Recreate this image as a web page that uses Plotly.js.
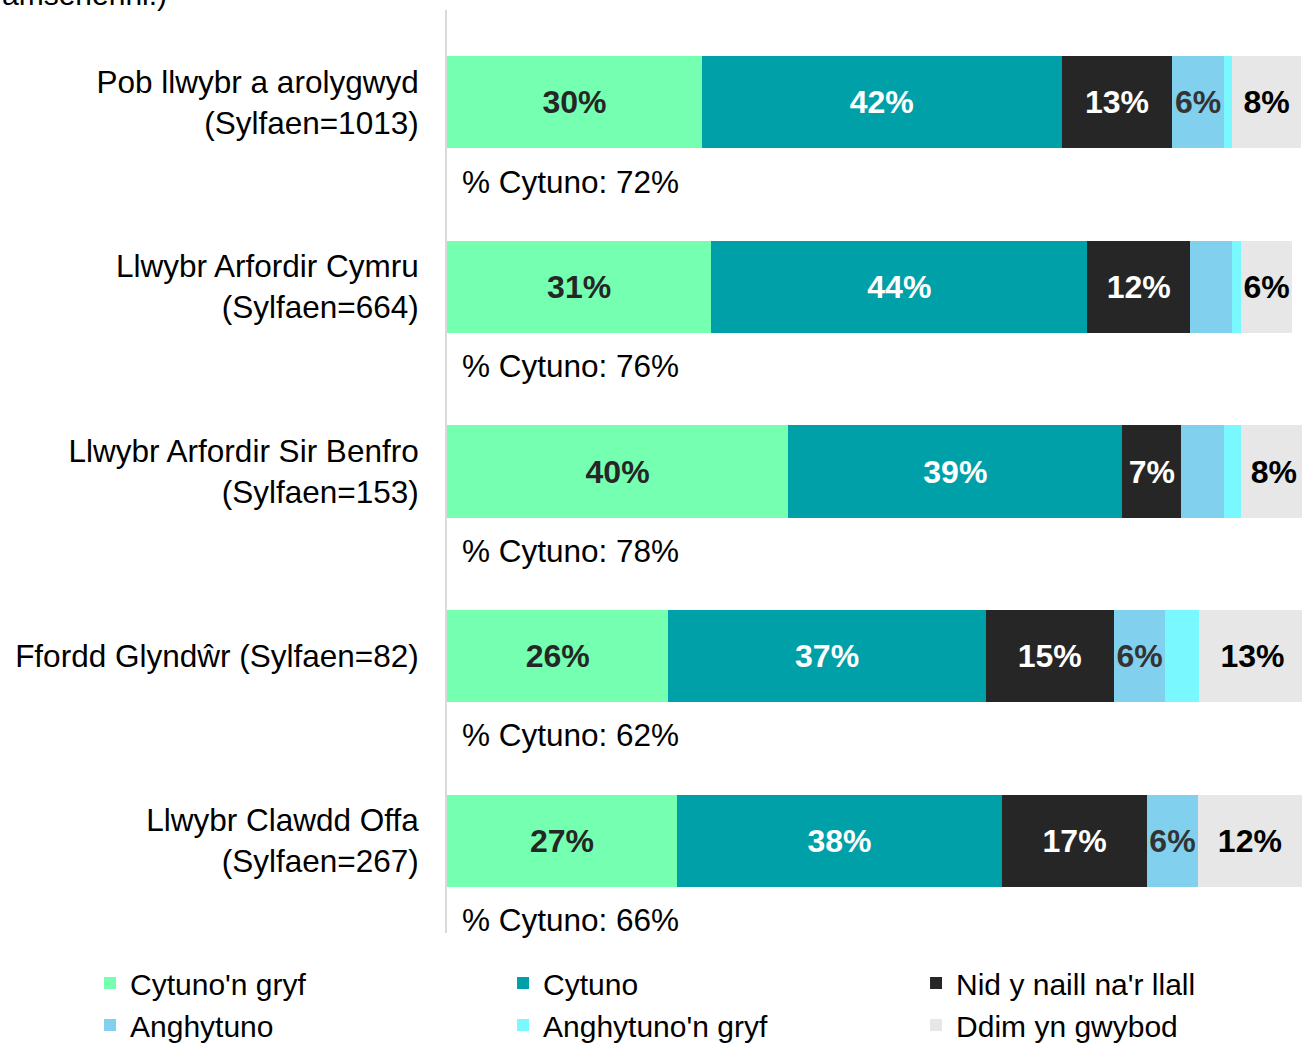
<!DOCTYPE html>
<html>
<head>
<meta charset="utf-8">
<script src="https://cdn.plot.ly/plotly-3.0.1.min.js"></script>
<style>html,body{margin:0;padding:0;background:#fff;}#chart{width:1303px;height:1044px;}</style>
</head>
<body>
<div id="chart"></div>
<script>
// Categories (top to bottom)
const categories = [
  "Pob llwybr a arolygwyd<br>(Sylfaen=1013)",
  "Llwybr Arfordir Cymru<br>(Sylfaen=664)",
  "Llwybr Arfordir Sir Benfro<br>(Sylfaen=153)",
  "Ffordd Glyndŵr (Sylfaen=82)",
  "Llwybr Clawdd Offa<br>(Sylfaen=267)"
];
const seriesNames = ["Cytuno'n gryf", "Cytuno", "Nid y naill na'r llall", "Anghytuno", "Anghytuno'n gryf", "Ddim yn gwybod"];
// Values (%) per series, one entry per category
const cytunoGryf     = [29.8, 30.9, 39.9, 25.9, 26.9];
const cytuno         = [42.1, 44.0, 39.1, 37.1, 38.0];
const nidYNaill      = [12.9, 12.0, 6.9, 15.0, 17.0];
const anghytuno      = [6.1, 4.9, 5.0, 6.0, 5.9];
const anghytunoGryf  = [0.9, 1.1, 2.0, 3.9, 0.0];
const ddimYnGwybod   = [8.1, 5.9, 7.6, 12.6, 12.2];
// % agree summary per category
const cytunoTotal    = [72, 76, 78, 62, 66];

const seriesValues = [cytunoGryf, cytuno, nidYNaill, anghytuno, anghytunoGryf, ddimYnGwybod];
const colors = ["#75FFB0", "#00A0A9", "#262626", "#80D0EE", "#7AF8FF", "#E7E7E7"];
const textColors = ["#262626", "#FFFFFF", "#FFFFFF", "#333333", "#333333", "#000000"];

const FONT = "Liberation Sans, Arial, sans-serif";
const FS = 31.5;
const yIdx = categories.map((c, i) => i);

const traces = seriesValues.map((vals, s) => ({
  type: "bar",
  orientation: "h",
  name: seriesNames[s],
  y: yIdx,
  x: vals,
  width: 0.5,
  marker: {color: colors[s], line: {width: 0}},
  text: vals.map(v => v >= 5.5 ? v.toFixed(0) + "%" : ""),
  textposition: "inside",
  insidetextanchor: "middle",
  textangle: 0,
  constraintext: "none",
  textfont: {family: FONT, size: 32, color: textColors[s], weight: "bold"},
  hoverinfo: "skip",
  showlegend: true
}));

const annotations = cytunoTotal.map((v, i) => ({
  xref: "x", yref: "y",
  x: 0, y: i + 0.43,
  xanchor: "left", yanchor: "middle",
  xshift: 13,
  text: "% Cytuno: " + v + "%",
  showarrow: false,
  font: {family: FONT, size: FS, color: "#000"}
}));
annotations.push({
  xref: "paper", yref: "paper",
  x: -447/855, y: 1,
  xanchor: "left", yanchor: "bottom",
  yshift: -3,
  text: "amserlenni.)",
  showarrow: false,
  font: {family: FONT, size: 30, color: "#000"}
});

const layout = {
  width: 1303, height: 1044,
  margin: {l: 447, r: 1, t: 10, b: 111, pad: 0, autoexpand: false},
  paper_bgcolor: "#fff", plot_bgcolor: "#fff",
  barmode: "stack",
  bargap: 0,
  font: {family: FONT, size: FS, color: "#000"},
  xaxis: {range: [0, 100], visible: false, fixedrange: true},
  yaxis: {
    range: [4.5, -0.5],
    tickvals: yIdx,
    ticktext: categories,
    showline: true, linecolor: "#D9D9D9", linewidth: 2,
    showgrid: false, zeroline: false,
    ticks: "", ticklabelstandoff: 20,
    tickfont: {family: FONT, size: FS, color: "#000"},
    fixedrange: true
  },
  legend: {
    orientation: "h",
    x: -0.4175, xanchor: "left",
    y: -0.026, yanchor: "top",
    entrywidth: 368,
    traceorder: "normal",
    font: {family: FONT, size: 30, color: "#000"},
    itemclick: false, itemdoubleclick: false
  },
  annotations: annotations,
  showlegend: true
};

Plotly.newPlot("chart", traces, layout, {displayModeBar: false, staticPlot: true});
</script>
</body>
</html>
